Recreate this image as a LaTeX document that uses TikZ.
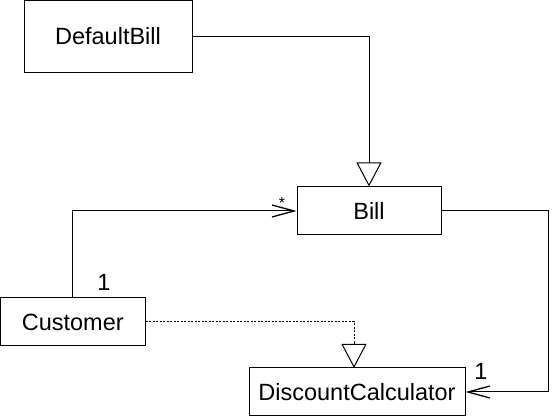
\documentclass[tikz,border=0pt]{standalone}
\usepackage{fontspec}
\setmainfont{Liberation Sans}
\usetikzlibrary{arrows.meta}
\begin{document}
\begin{tikzpicture}[x=1pt,y=-1pt,line width=1pt,
  cls/.style={draw,rectangle,inner sep=0pt,minimum height=48pt,font=\fontsize{23.5}{28}\selectfont},
  lbl/.style={inner sep=0pt,font=\fontsize{23.5}{28}\selectfont},
  gen/.style={-{Triangle[open,width=25pt,length=24pt,line width=1pt]}},
  assoc/.style={-{Straight Barb[length=22pt,width=12pt,line width=1.3pt]}},
  realize/.style={dash pattern=on 2pt off 1.5pt}]
\useasboundingbox (0,0) rectangle (558,419);
\node[cls,minimum width=168pt,minimum height=72pt] (defbill) at (108,36.5) {DefaultBill};
\node[cls,minimum width=144pt] (bill) at (369,211) {Bill};
\node[cls,minimum width=144.5pt] (cust) at (72.75,322) {Customer};
\node[cls,minimum width=216pt] (disc) at (357,392) {DiscountCalculator};
\coordinate (rt) at (548,211);
\coordinate (dt) at (354,368);
\draw[gen] (defbill.east) -| (bill.north);
\draw[assoc] (cust.north) |- (bill.west);
\draw[assoc] (bill.east) -- (rt) |- (disc.east);
\draw[realize] (cust.east) -| (354,343);
\draw[gen] (354,343) -- (dt);
\node[inner sep=0pt,font=\fontsize{16}{18}\selectfont] (star) at (282,203) {*};
\node[lbl] (m1) at (104,282) {1};
\node[lbl] (m2) at (481,371) {1};
\end{tikzpicture}
\end{document}
